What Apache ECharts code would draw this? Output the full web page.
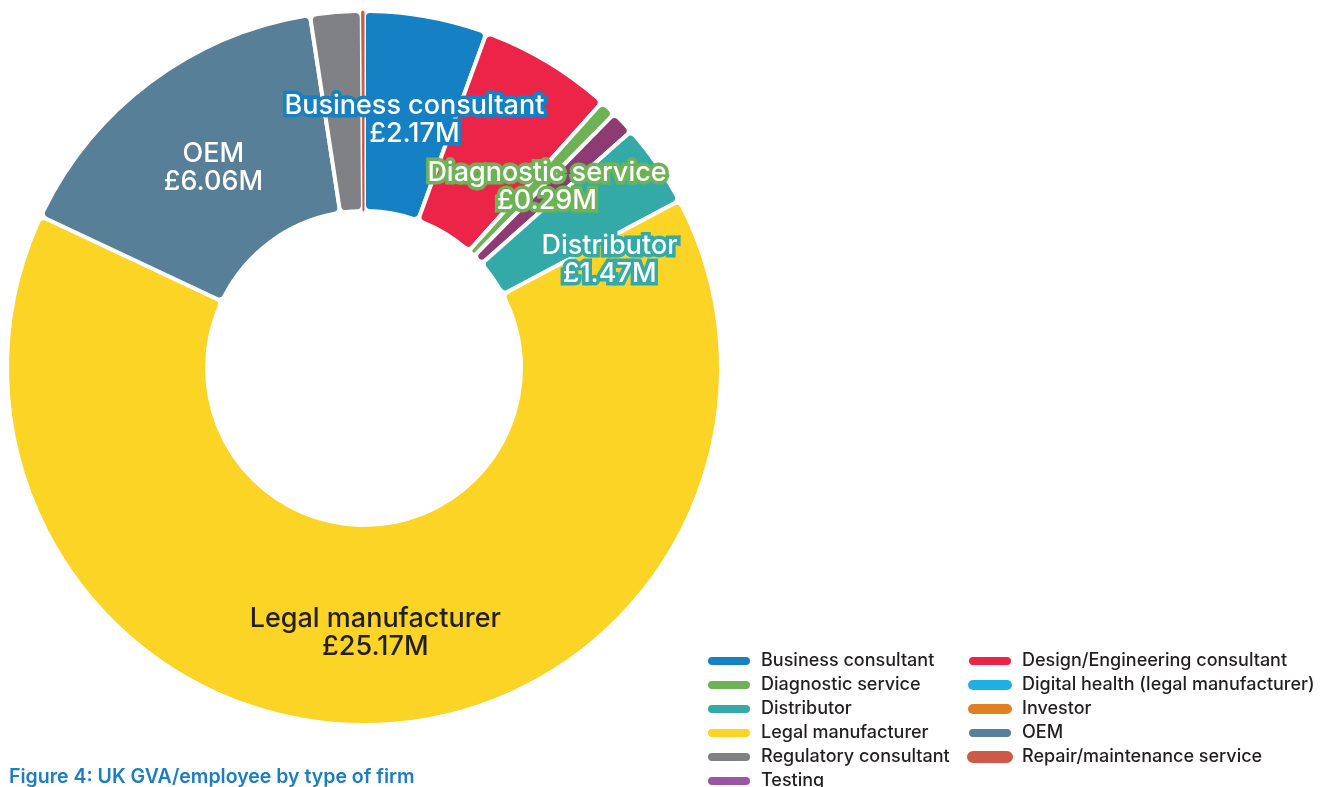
<!DOCTYPE html>
<html>
<head>
<meta charset="utf-8">
<script src="https://cdn.jsdelivr.net/npm/echarts@6/dist/echarts.min.js"></script>
<style>
  html, body { margin: 0; padding: 0; background: #fff; }
  #chart { width: 1322px; height: 787px; }
</style>
</head>
<body>
<div id="chart"></div>
<script>
// UK GVA per employee (£M) by type of firm, in drawing order (clockwise from 12 o'clock)
const firmTypes = [
  'Business consultant',
  'Design/Engineering consultant',
  'Diagnostic service',
  'Digital health (legal manufacturer)',
  'Testing',
  'Distributor',
  'Investor',
  'Legal manufacturer',
  'OEM',
  'Regulatory consultant',
  'Repair/maintenance service'
];
const gvaValues = [2.17, 2.35, 0.29, 0, 0.42, 1.47, 0, 25.17, 6.06, 0.9, 0.04];
const sliceColors = [
  '#1680c4', '#ec2448', '#6db356', '#21aee3', '#8e3a73', '#33aaa8',
  '#e07f26', '#fcd426', '#587f98', '#7f8184', '#cc5a48'
];
// Slices that carry an in-chart label
const labelledFirms = ['Business consultant', 'Diagnostic service', 'Distributor', 'Legal manufacturer', 'OEM'];

// Legend columns
const legendLeft = ['Business consultant', 'Diagnostic service', 'Distributor', 'Legal manufacturer', 'Regulatory consultant', 'Testing'];
const legendRight = ['Design/Engineering consultant', 'Digital health (legal manufacturer)', 'Investor', 'OEM', 'Repair/maintenance service'];
const legendColorOverrides = { 'Testing': '#9856a3' };

const FONT = 'Inter, "Liberation Sans", Arial, sans-serif';
const pill = 'path://M5,0 H39 A5,5 0 0 1 39,10 H5 A5,5 0 0 1 5,0 Z';

const pieData = firmTypes.map((name, i) => {
  const show = labelledFirms.includes(name);
  const isLegal = name === 'Legal manufacturer';
  const item = {
    name,
    value: gvaValues[i],
    itemStyle: { color: sliceColors[i] },
    label: {
      show,
      formatter: '{b}\n£{c}M',
      offset: name === 'Distributor' ? [32, 40] : (isLegal ? [5, 5] : [5, 8]),
      color: isLegal ? '#231f20' : '#ffffff',
      textBorderColor: isLegal ? 'transparent' : sliceColors[i],
      textBorderWidth: isLegal ? 0 : 7
    }
  };
  if (gvaValues[i] === 0) item.itemStyle.borderWidth = 0;
  if (name === 'Repair/maintenance service') {
    item.itemStyle.borderWidth = 1;
    item.itemStyle.borderColor = sliceColors[i];
  }
  return item;
});

const legendItems = names => names.map(n => {
  const c = legendColorOverrides[n] || sliceColors[firmTypes.indexOf(n)];
  return { name: n, itemStyle: { color: c } };
});

const legendBase = {
  orient: 'vertical',
  top: 651,
  height: 300,
  padding: 0,
  itemWidth: 44,
  itemHeight: 10,
  itemGap: 4,
  icon: pill,
  selectedMode: false,
  textStyle: {
    fontFamily: FONT,
    fontSize: 18,
    fontWeight: 500,
    color: '#231f20',
    lineHeight: 20,
    padding: [0, 0, 0, 5]
  }
};

const chart = echarts.init(document.getElementById('chart'), null, { renderer: 'canvas' });
chart.setOption({
  animation: false,
  title: {
    text: 'Figure 4: UK GVA/employee by type of firm',
    left: 4,
    top: 762,
    textStyle: { fontFamily: FONT, fontSize: 19.5, fontWeight: 600, color: '#1a7ec4' }
  },
  legend: [
    Object.assign({}, legendBase, { left: 706, data: legendItems(legendLeft) }),
    Object.assign({}, legendBase, { left: 967, data: legendItems(legendRight) })
  ],
  series: [{
    type: 'pie',
    center: [364, 368],
    radius: [157, 357],
    startAngle: 90,
    clockwise: true,
    avoidLabelOverlap: false,
    itemStyle: {
      borderColor: '#ffffff',
      borderWidth: 4,
      borderRadius: 6
    },
    label: {
      position: 'inside',
      fontFamily: FONT,
      fontSize: 27,
      fontWeight: 500,
      lineHeight: 28,
      align: 'center'
    },
    labelLine: { show: false },
    emphasis: { disabled: true },
    data: pieData
  }]
});
</script>
</body>
</html>
